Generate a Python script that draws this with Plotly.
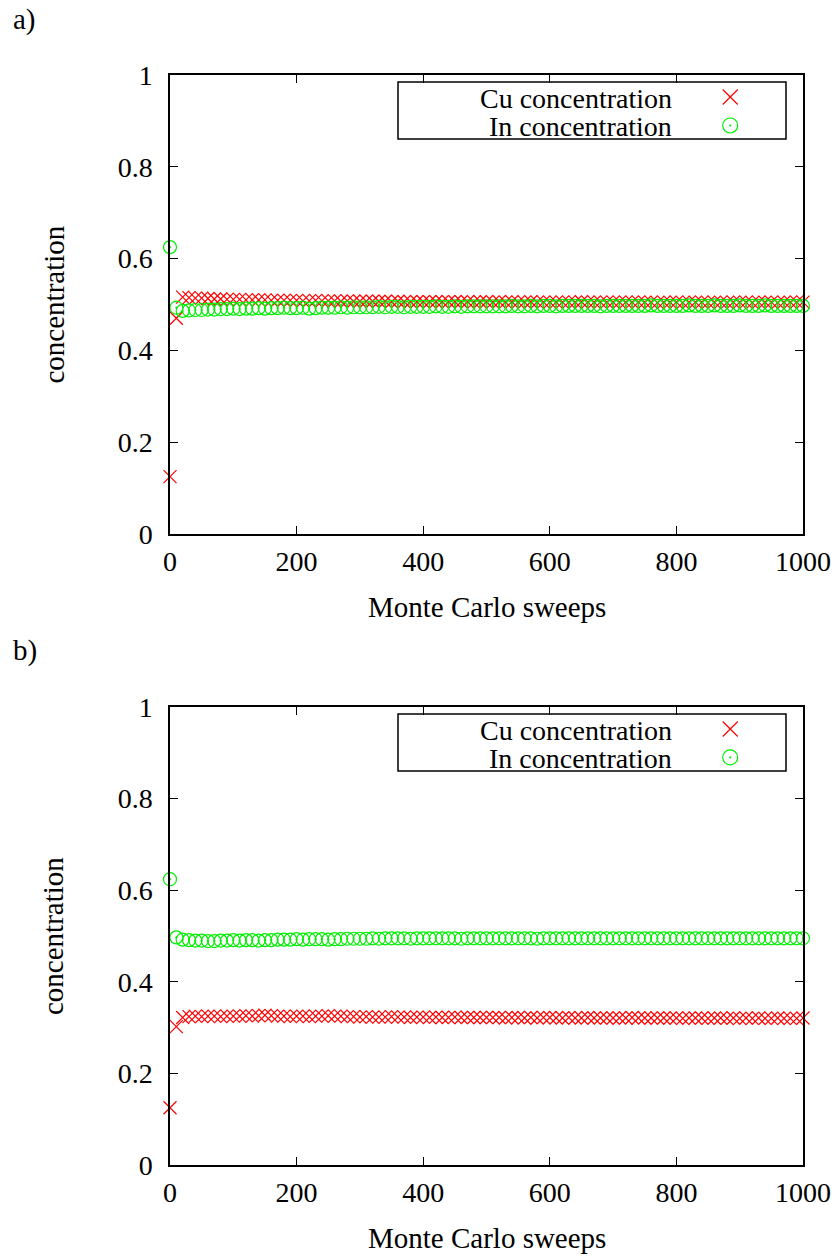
import plotly.graph_objects as go

# Monte Carlo sweep index (every 10th sweep sampled)
sweeps = list(range(0, 1001, 10))

# Panel a) concentrations
cu_a = [
    0.125, 0.470, 0.516, 0.515, 0.514, 0.514, 0.513, 0.512, 0.512, 0.511,
    0.511, 0.511, 0.510, 0.510, 0.510, 0.510, 0.509, 0.509, 0.509, 0.509,
    0.509, 0.508, 0.508, 0.509, 0.508, 0.508, 0.508, 0.507, 0.508, 0.507,
    0.507, 0.507, 0.507, 0.507, 0.507, 0.506, 0.507, 0.506, 0.506, 0.506,
    0.506, 0.506, 0.506, 0.506, 0.506, 0.506, 0.506, 0.506, 0.505, 0.506,
    0.506, 0.505, 0.506, 0.505, 0.506, 0.505, 0.505, 0.506, 0.505, 0.505,
    0.505, 0.505, 0.505, 0.505, 0.505, 0.506, 0.505, 0.505, 0.505, 0.505,
    0.505, 0.505, 0.505, 0.505, 0.505, 0.505, 0.505, 0.504, 0.505, 0.505,
    0.505, 0.504, 0.505, 0.505, 0.505, 0.504, 0.505, 0.505, 0.504, 0.505,
    0.505, 0.505, 0.504, 0.505, 0.505, 0.505, 0.504, 0.505, 0.505, 0.505,
    0.505,
]
in_a = [
    0.625, 0.493, 0.486, 0.487, 0.488, 0.488, 0.489, 0.489, 0.490, 0.490,
    0.491, 0.490, 0.491, 0.491, 0.492, 0.491, 0.492, 0.492, 0.493, 0.492,
    0.492, 0.493, 0.491, 0.492, 0.493, 0.493, 0.493, 0.494, 0.493, 0.494,
    0.494, 0.494, 0.494, 0.495, 0.494, 0.495, 0.495, 0.494, 0.495, 0.495,
    0.495, 0.495, 0.496, 0.495, 0.495, 0.496, 0.495, 0.496, 0.496, 0.496,
    0.496, 0.496, 0.496, 0.496, 0.497, 0.496, 0.496, 0.497, 0.496, 0.497,
    0.497, 0.496, 0.497, 0.497, 0.497, 0.497, 0.497, 0.497, 0.496, 0.497,
    0.497, 0.497, 0.497, 0.497, 0.497, 0.497, 0.498, 0.497, 0.497, 0.497,
    0.497, 0.497, 0.498, 0.497, 0.497, 0.497, 0.498, 0.497, 0.497, 0.497,
    0.498, 0.497, 0.497, 0.497, 0.498, 0.497, 0.497, 0.497, 0.497, 0.497,
    0.497,
]

# Panel b) concentrations
cu_b = [
    0.125, 0.302, 0.322, 0.324, 0.325, 0.324, 0.325, 0.325, 0.324, 0.325,
    0.325, 0.325, 0.326, 0.325, 0.326, 0.327, 0.326, 0.325, 0.325, 0.324,
    0.325, 0.325, 0.324, 0.325, 0.325, 0.326, 0.325, 0.325, 0.324, 0.324,
    0.323, 0.324, 0.323, 0.323, 0.323, 0.324, 0.323, 0.323, 0.322, 0.323,
    0.323, 0.322, 0.323, 0.322, 0.322, 0.323, 0.322, 0.322, 0.322, 0.322,
    0.322, 0.322, 0.322, 0.321, 0.322, 0.322, 0.321, 0.322, 0.321, 0.322,
    0.322, 0.321, 0.321, 0.322, 0.321, 0.321, 0.322, 0.321, 0.321, 0.321,
    0.321, 0.321, 0.321, 0.322, 0.321, 0.321, 0.321, 0.321, 0.321, 0.321,
    0.321, 0.320, 0.321, 0.321, 0.321, 0.320, 0.321, 0.321, 0.320, 0.321,
    0.320, 0.321, 0.320, 0.321, 0.320, 0.320, 0.321, 0.320, 0.320, 0.320,
    0.321,
]
in_b = [
    0.624, 0.497, 0.492, 0.491, 0.490, 0.490, 0.489, 0.489, 0.490, 0.490,
    0.491, 0.490, 0.491, 0.491, 0.490, 0.491, 0.491, 0.492, 0.492, 0.492,
    0.493, 0.492, 0.493, 0.493, 0.493, 0.492, 0.493, 0.493, 0.494, 0.494,
    0.494, 0.494, 0.495, 0.494, 0.495, 0.495, 0.495, 0.495, 0.494, 0.495,
    0.495, 0.495, 0.495, 0.495, 0.495, 0.495, 0.494, 0.495, 0.495, 0.495,
    0.495, 0.495, 0.495, 0.495, 0.495, 0.495, 0.495, 0.495, 0.494, 0.495,
    0.495, 0.495, 0.495, 0.495, 0.495, 0.495, 0.495, 0.495, 0.495, 0.495,
    0.495, 0.495, 0.495, 0.495, 0.495, 0.495, 0.495, 0.495, 0.495, 0.495,
    0.495, 0.495, 0.495, 0.495, 0.495, 0.495, 0.495, 0.495, 0.495, 0.495,
    0.495, 0.495, 0.495, 0.495, 0.495, 0.495, 0.495, 0.495, 0.495, 0.495,
    0.495,
]

series_names = ["Cu concentration", "In concentration"]
x_ticks = [0, 200, 400, 600, 800, 1000]
y_ticks = [0, 0.2, 0.4, 0.6, 0.8, 1]

W, H = 838, 1257
FONT = "Liberation Serif"
FS = 29
TICK_FS = 28
KEY_FS = 28
RED = "#ff0000"
GREEN = "#00ee00"

cross = dict(symbol="x-thin-open", size=13, color=RED, line=dict(color=RED, width=1.2))
circle = dict(symbol="circle-open-dot", size=13, color=GREEN, line=dict(color=GREEN, width=1.2))

# plot frames in pixels
px_left, px_right = 170, 803
panels = [
    dict(top=75, bottom=534, cu=cu_a, inn=in_a, tag="a)", tag_y=20),
    dict(top=707, bottom=1165, cu=cu_b, inn=in_b, tag="b)", tag_y=650),
]

fig = go.Figure()
xdom = [px_left / W, px_right / W]

axis_common = dict(
    showline=True, linecolor="black", linewidth=1.5, mirror="ticks",
    ticks="inside", ticklen=8, tickwidth=1.2, tickcolor="black",
    showgrid=False, zeroline=False, automargin=False,
    tickfont=dict(family=FONT, size=TICK_FS, color="black"),
)

annotations = []
shapes = []
for i, p in enumerate(panels):
    n = i + 1
    sfx = "" if n == 1 else str(n)
    xa, ya = f"x{sfx}", f"y{sfx}"
    ydom = [1 - p["bottom"] / H, 1 - p["top"] / H]
    fig.add_trace(go.Scatter(x=sweeps, y=p["cu"], mode="markers", marker=cross,
                             name=series_names[0], showlegend=False, cliponaxis=False,
                             xaxis=xa, yaxis=ya))
    fig.add_trace(go.Scatter(x=sweeps, y=p["inn"], mode="markers", marker=circle,
                             name=series_names[1], showlegend=False, cliponaxis=False,
                             xaxis=xa, yaxis=ya))
    fig.update_layout({
        f"xaxis{sfx}": dict(axis_common, domain=xdom, range=[0, 1000], tickvals=x_ticks,
                            ticktext=[str(v) for v in x_ticks], anchor=ya,
                            ticklabelstandoff=2),
        f"yaxis{sfx}": dict(axis_common, domain=ydom, range=[0, 1], tickvals=y_ticks,
                            ticktext=[f"{v:g}" for v in y_ticks], anchor=xa,
                            ticklabelstandoff=10),
    })

    # key symbols on a unit-square overlay of the plot frame
    kn = n + 2
    kx, ky = f"x{kn}", f"y{kn}"
    fig.update_layout({
        f"xaxis{kn}": dict(overlaying=xa, range=[0, 1], visible=False, anchor=ky),
        f"yaxis{kn}": dict(overlaying=ya, range=[0, 1], visible=False, anchor=kx),
    })
    key_y = [0.952, 0.890]
    fig.add_trace(go.Scatter(x=[0.885], y=[key_y[0]], mode="markers",
                             marker=dict(cross, size=15), showlegend=False,
                             hoverinfo="skip", xaxis=kx, yaxis=ky))
    fig.add_trace(go.Scatter(x=[0.885], y=[key_y[1]], mode="markers",
                             marker=dict(circle, size=15), showlegend=False,
                             hoverinfo="skip", xaxis=kx, yaxis=ky))

    top, bot = p["top"], p["bottom"]
    shapes.append(dict(type="rect", xref="paper", yref="paper",
                       x0=398 / W, x1=786 / W,
                       y0=1 - (top + 64) / H, y1=1 - (top + 7) / H,
                       line=dict(color="black", width=1.5), layer="above"))
    for j, name in enumerate(series_names):
        ty = top + 23 + j * 28
        annotations.append(dict(text=name, xref="paper", yref="paper",
                                x=673 / W, y=1 - ty / H, xanchor="right", yanchor="middle",
                                height=26, valign="middle", borderpad=0,
                                showarrow=False, font=dict(family=FONT, size=KEY_FS, color="black")))

    annotations.append(dict(text="Monte Carlo sweeps", xref="paper", yref="paper",
                            x=(px_left + px_right) / 2 / W, y=1 - (bot + 73) / H,
                            xanchor="center", yanchor="middle", showarrow=False,
                            font=dict(family=FONT, size=FS, color="black")))
    annotations.append(dict(text="concentration", xref="paper", yref="paper",
                            x=53 / W, y=1 - (top + bot) / 2 / H, textangle=-90,
                            xanchor="center", yanchor="middle", showarrow=False,
                            font=dict(family=FONT, size=FS, color="black")))
    annotations.append(dict(text=p["tag"], xref="paper", yref="paper",
                            x=11 / W, y=1 - p["tag_y"] / H, xanchor="left", yanchor="middle",
                            showarrow=False, font=dict(family=FONT, size=FS, color="black")))

fig.update_layout(
    width=W, height=H, margin=dict(l=0, r=0, t=0, b=0, autoexpand=False),
    paper_bgcolor="white", plot_bgcolor="white",
    annotations=annotations, shapes=shapes, showlegend=False,
)

fig.write_html("out.html")
